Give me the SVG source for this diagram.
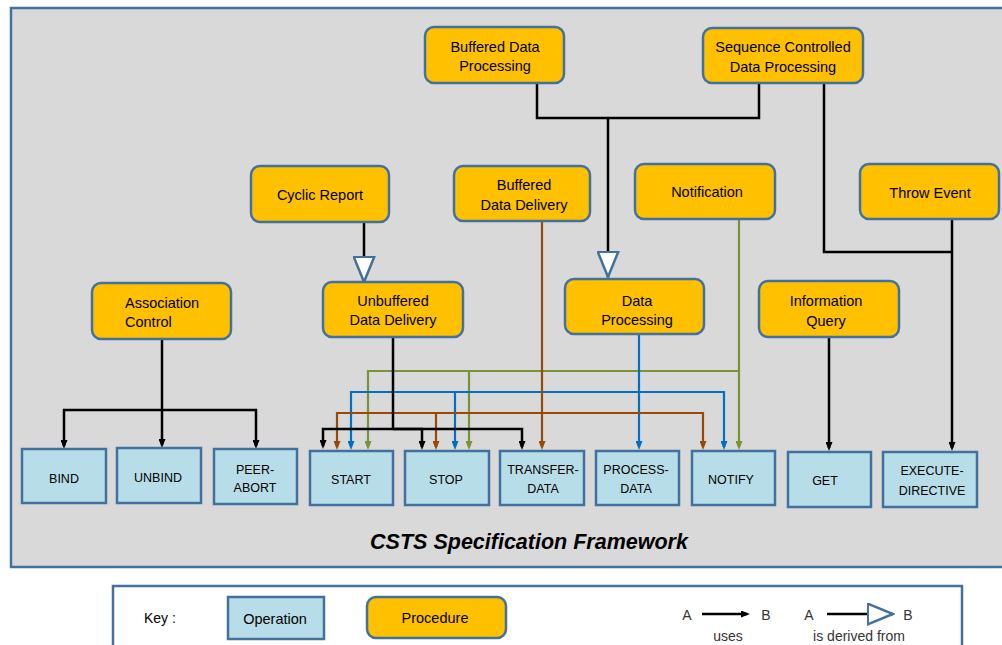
<svg xmlns="http://www.w3.org/2000/svg" width="1002" height="645" viewBox="0 0 1002 645">
<style>
text{font-family:"Liberation Sans",Arial,sans-serif;fill:#000}
.op rect{fill:#B7DEE8;stroke:#41719C;stroke-width:2.5}
.op text{font-size:12.5px;text-anchor:middle}
.pr rect{fill:#FFC000;stroke:#41719C;stroke-width:2.5}
.pr text{font-size:14.5px;text-anchor:middle}
.c{fill:none;stroke-width:2.5;stroke-linejoin:miter}
.k{stroke:#000}
.br{stroke:#984807;stroke-width:2.2}
.bl{stroke:#0070C0;stroke-width:2.2}
.gr{stroke:#77933C;stroke-width:2.2}
.kl{font-size:14px;text-anchor:middle;fill:#333}
</style>
<defs>
<marker id="ak" markerUnits="userSpaceOnUse" viewBox="0 0 9 7" markerWidth="9" markerHeight="7" refX="6" refY="3.5" orient="auto"><path d="M0,0 L9,3.5 L0,7 z" fill="#000"/></marker>
<marker id="abr" markerUnits="userSpaceOnUse" viewBox="0 0 9 7" markerWidth="9" markerHeight="7" refX="6" refY="3.5" orient="auto"><path d="M0,0 L9,3.5 L0,7 z" fill="#984807"/></marker>
<marker id="abl" markerUnits="userSpaceOnUse" viewBox="0 0 9 7" markerWidth="9" markerHeight="7" refX="6" refY="3.5" orient="auto"><path d="M0,0 L9,3.5 L0,7 z" fill="#0070C0"/></marker>
<marker id="agr" markerUnits="userSpaceOnUse" viewBox="0 0 9 7" markerWidth="9" markerHeight="7" refX="6" refY="3.5" orient="auto"><path d="M0,0 L9,3.5 L0,7 z" fill="#77933C"/></marker>
<marker id="der" markerUnits="userSpaceOnUse" viewBox="0 0 28 23" markerWidth="28" markerHeight="23" refX="26.5" refY="11.5" orient="auto"><path d="M1.2,1.2 L26.5,11.5 L1.2,21.8 z" fill="#fff" stroke="#41719C" stroke-width="2.5" stroke-linejoin="miter"/></marker>
</defs>

<rect id="frame" x="11" y="8" width="1000" height="559" fill="#D9D9D9" stroke="#41719C" stroke-width="2.5"/>

<g id="connectors">
<path class="c k" d="M537,83 V118 H759 V83"/>
<path class="c k" d="M608,118 V277" marker-end="url(#der)"/>
<path class="c k" d="M364,222 V282" marker-end="url(#der)"/>
<path class="c k" d="M824,83 V252 H952"/>
<path class="c k" d="M952,219 V448" marker-end="url(#ak)"/>
<path class="c k" d="M829,337 V448" marker-end="url(#ak)"/>
<path class="c k" d="M162,339 V445" marker-end="url(#ak)"/>
<path class="c k" d="M162,410 H64 V446" marker-end="url(#ak)"/>
<path class="c k" d="M162,410 H256 V446" marker-end="url(#ak)"/>
<path class="c gr" d="M739,219 V447" marker-end="url(#agr)"/>
<path class="c gr" d="M739,371 H368 V447" marker-end="url(#agr)"/>
<path class="c gr" d="M739,371 H469 V447" marker-end="url(#agr)"/>
<path class="c bl" d="M639,334 V447" marker-end="url(#abl)"/>
<path class="c bl" d="M639,392 H351 V447" marker-end="url(#abl)"/>
<path class="c bl" d="M639,392 H455 V447" marker-end="url(#abl)"/>
<path class="c bl" d="M639,392 H724 V447" marker-end="url(#abl)"/>
<path class="c br" d="M542,221 V447" marker-end="url(#abr)"/>
<path class="c br" d="M542,413 H337 V447" marker-end="url(#abr)"/>
<path class="c br" d="M542,413 H436 V447" marker-end="url(#abr)"/>
<path class="c br" d="M542,413 H703 V447" marker-end="url(#abr)"/>
<path class="c k" d="M393,337 V429"/>
<path class="c k" d="M393,429 H323 V446" marker-end="url(#ak)"/>
<path class="c k" d="M393,429 H422 V447" marker-end="url(#ak)"/>
<path class="c k" d="M393,429 H522 V447" marker-end="url(#ak)"/>
</g>

<g id="buffered-data-processing" class="pr"><rect x="425" y="27" width="139" height="56" rx="9"/><text x="495" y="52">Buffered Data</text><text x="495" y="71">Processing</text></g>
<g id="sequence-controlled-data-processing" class="pr"><rect x="703" y="28" width="160" height="55" rx="9"/><text x="783" y="52">Sequence Controlled</text><text x="783" y="72">Data Processing</text></g>
<g id="cyclic-report" class="pr"><rect x="251" y="166" width="138" height="56" rx="9"/><text x="320" y="200">Cyclic Report</text></g>
<g id="buffered-data-delivery" class="pr"><rect x="454" y="166" width="136" height="55" rx="9"/><text x="524" y="190">Buffered</text><text x="524" y="210">Data Delivery</text></g>
<g id="notification" class="pr"><rect x="635" y="164" width="140" height="55" rx="9"/><text x="707" y="197">Notification</text></g>
<g id="throw-event" class="pr"><rect x="860" y="164" width="139" height="55" rx="9"/><text x="930" y="198">Throw Event</text></g>
<g id="association-control" class="pr"><rect x="92" y="283" width="139" height="56" rx="9"/><text x="125" y="308" style="text-anchor:start">Association</text><text x="125" y="327" style="text-anchor:start">Control</text></g>
<g id="unbuffered-data-delivery" class="pr"><rect x="323" y="282" width="140" height="55" rx="9"/><text x="393" y="306">Unbuffered</text><text x="393" y="325">Data Delivery</text></g>
<g id="data-processing" class="pr"><rect x="565" y="279" width="139" height="55" rx="9"/><text x="637" y="306">Data</text><text x="637" y="325">Processing</text></g>
<g id="information-query" class="pr"><rect x="759" y="281" width="140" height="56" rx="9"/><text x="826" y="306">Information</text><text x="826" y="326">Query</text></g>

<g id="bind" class="op"><rect x="22" y="449" width="84" height="54"/><text x="64" y="482.5">BIND</text></g>
<g id="unbind" class="op"><rect x="117" y="448" width="84" height="55"/><text x="158" y="482">UNBIND</text></g>
<g id="peer-abort" class="op"><rect x="214" y="449" width="83" height="55"/><text x="255" y="473.5">PEER-</text><text x="255" y="492">ABORT</text></g>
<g id="start" class="op"><rect x="310" y="451" width="83" height="54"/><text x="351" y="483.5">START</text></g>
<g id="stop" class="op"><rect x="405" y="451" width="84" height="54"/><text x="446" y="484">STOP</text></g>
<g id="transfer-data" class="op"><rect x="500" y="451" width="84" height="54"/><text x="543" y="473.5">TRANSFER-</text><text x="543" y="492.5">DATA</text></g>
<g id="process-data" class="op"><rect x="596" y="451" width="83" height="54"/><text x="636" y="474">PROCESS-</text><text x="636" y="493">DATA</text></g>
<g id="notify" class="op"><rect x="692" y="451" width="83" height="54"/><text x="731" y="484">NOTIFY</text></g>
<g id="get" class="op"><rect x="788" y="452" width="83" height="55"/><text x="825" y="484.5">GET</text></g>
<g id="execute-directive" class="op"><rect x="883" y="452" width="94" height="55"/><text x="932" y="475">EXECUTE-</text><text x="932" y="494.5">DIRECTIVE</text></g>

<text id="title" x="529" y="549" text-anchor="middle" font-size="21.5" font-weight="bold" font-style="italic">CSTS Specification Framework</text>

<g id="key">
<rect x="113" y="586" width="849" height="70" fill="#fff" stroke="#41719C" stroke-width="2.5"/>
<text x="144" y="623" font-size="14">Key :</text>
<g class="op"><rect x="228" y="597" width="96" height="42"/><text x="275" y="624" style="font-size:14.5px">Operation</text></g>
<g class="pr"><rect x="367" y="597" width="139" height="41" rx="9"/><text x="435" y="623">Procedure</text></g>
<text class="kl" x="687" y="619.5">A</text>
<path class="c k" d="M702,614 H747" marker-end="url(#ak)"/>
<text class="kl" x="766" y="619.5">B</text>
<text class="kl" x="728" y="641">uses</text>
<text class="kl" x="809" y="619.5">A</text>
<path class="c k" d="M827,614 H893" marker-end="url(#der)"/>
<text class="kl" x="908" y="619.5">B</text>
<text class="kl" x="859" y="641">is derived from</text>
</g>
</svg>
